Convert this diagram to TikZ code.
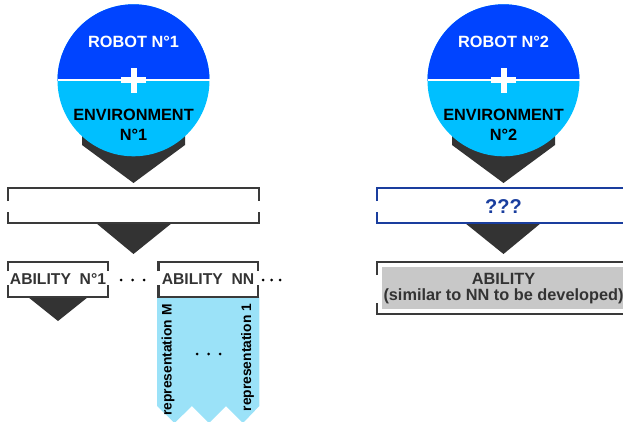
\documentclass[tikz,border=0pt]{standalone}
\usepackage{fontspec}
\setmainfont{Liberation Sans}
\definecolor{robotblue}{HTML}{0044FF}
\definecolor{envblue}{HTML}{00BFFF}
\definecolor{darkg}{HTML}{333333}
\definecolor{lineg}{HTML}{3A3A3A}
\definecolor{qblue}{HTML}{1A3E9E}
\definecolor{repblue}{HTML}{9BE2F8}
\definecolor{grayfill}{HTML}{C8C8C8}
\newcommand\brkbox[7]{%
  \draw[#7, line width=2.5pt, line join=miter] (#1,#5) -- (#1,#2) -- (#3,#2) -- (#3,#5);
  \draw[#7, line width=2.5pt, line join=miter] (#1,#6) -- (#1,#4) -- (#3,#4) -- (#3,#6);}
\begin{document}
\begin{tikzpicture}[x=1pt,y=-1pt,
  headw/.style={font=\bfseries\fontsize{16.3}{20}\selectfont, text=white, align=center, inner sep=0pt},
  headk/.style={font=\bfseries\fontsize{16.3}{20}\selectfont, text=black, align=center, inner sep=0pt},
  abil/.style={font=\bfseries\fontsize{15.7}{16}\selectfont, text=darkg, align=center, inner sep=0pt},
  rep/.style={font=\bfseries\fontsize{13.8}{14}\selectfont, text=black, rotate=90, inner sep=0pt},
  dotc/.style={fill=black},
  arrowshape/.style={fill=darkg}]
\useasboundingbox (0,0) rectangle (623,422);
\clip (0,0) rectangle (623,422);

% ---------- left column ----------
\fill[arrowshape] (82,130) -- (82,145) -- (133.5,183) -- (185,145) -- (185,130) -- cycle;
\fill[envblue] (133.5,80.3) circle[radius=76pt];
\begin{scope}
  \clip (50,0) rectangle (220,80.3);
  \fill[robotblue] (133.5,80.3) circle[radius=76pt];
\end{scope}
\draw[white, line width=2pt] (57.5,80.3) -- (209.5,80.3);
\fill[white] (121,77.3) rectangle (146,83.3);
\fill[white] (130.6,67.7) rectangle (136.6,92.7);
\node[headw] (robot1) at (133.5,42) {ROBOT N°1};
\node[headk] (env1) at (133.5,125) {ENVIRONMENT\\N°1};

\fill[arrowshape] (96,223) -- (172,223) -- (133.5,254) -- cycle;
\brkbox{8}{188}{259}{223}{201}{212}{lineg}

\fill[arrowshape] (28,297) -- (88,297) -- (58,321) -- cycle;
\brkbox{8}{262}{108}{297}{271}{285}{lineg}
\node[abil] (ab1) at (58,279.5) {ABILITY\ \ N°1};

\fill[dotc] (121,280) circle[radius=1.5pt] (132.5,280) circle[radius=1.5pt] (144,280) circle[radius=1.5pt];

\fill[repblue] (157,297) -- (259.3,297) -- (259.3,406) -- (243,423) -- (226,406) -- (209,423) -- (192,406) -- (174.5,423) -- (157,406) -- cycle;
\brkbox{158.3}{262}{258}{297}{271}{285}{lineg}
\node[abil] (abnn) at (208,279.5) {ABILITY\ \ NN};
\fill[dotc] (263,280) circle[radius=1.5pt] (271.5,280) circle[radius=1.5pt] (280,280) circle[radius=1.5pt];

\node[rep] (repM) at (168,360) {representation M};
\node[rep] (rep1) at (247.5,357.5) {representation 1};
\fill[dotc] (197,354) circle[radius=1.5pt] (208.5,354) circle[radius=1.5pt] (220,354) circle[radius=1.5pt];

% ---------- right column ----------
\fill[arrowshape] (452,130) -- (452,145) -- (503.5,183) -- (555,145) -- (555,130) -- cycle;
\fill[envblue] (503.5,80.3) circle[radius=76pt];
\begin{scope}
  \clip (420,0) rectangle (590,80.3);
  \fill[robotblue] (503.5,80.3) circle[radius=76pt];
\end{scope}
\draw[white, line width=2pt] (427.5,80.3) -- (579.5,80.3);
\fill[white] (491,77.3) rectangle (516,83.3);
\fill[white] (500.6,67.7) rectangle (506.6,92.7);
\node[headw] (robot2) at (503.5,42) {ROBOT N°2};
\node[headk] (env2) at (503.5,125) {ENVIRONMENT\\N°2};

\fill[arrowshape] (465,223) -- (541,223) -- (503.5,254) -- cycle;
\brkbox{377}{188}{630}{223}{201}{212}{qblue}
\node[font=\bfseries\fontsize{20}{20}\selectfont, text=qblue, inner sep=0pt] (qqq) at (503.5,207) {???};

\fill[grayfill] (382,267) rectangle (640,309);
\brkbox{377}{262}{630}{314}{275}{303}{lineg}
\node[abil, font=\bfseries\fontsize{16.3}{16.5}\selectfont] (abnew) at (503.5,288.5) {ABILITY\\(similar to NN to be developed)};
\end{tikzpicture}
\end{document}
